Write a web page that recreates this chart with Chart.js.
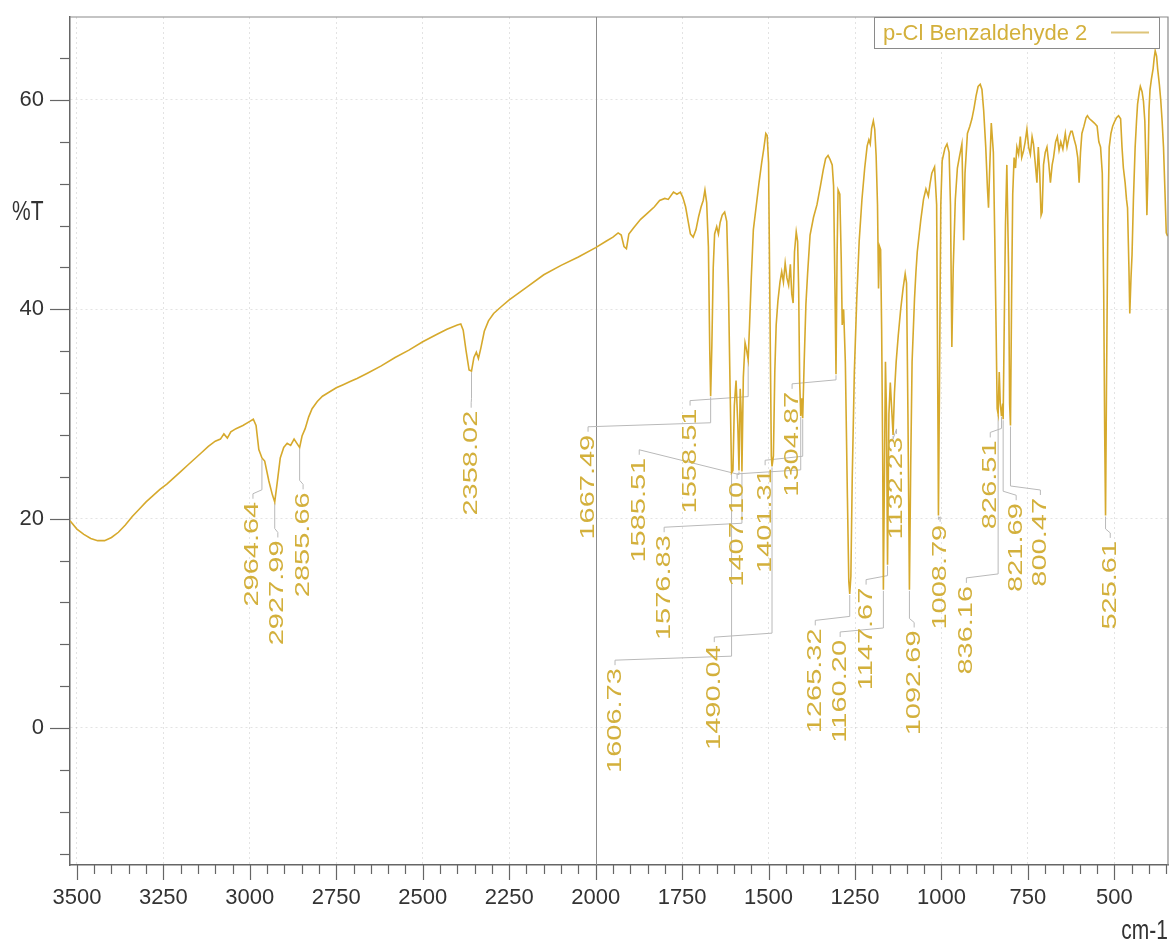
<!DOCTYPE html>
<html>
<head>
<meta charset="utf-8">
<title>p-Cl Benzaldehyde 2</title>
<script src="https://cdn.jsdelivr.net/npm/chart.js@4.4.1/dist/chart.umd.min.js"></script>
<style>
  html, body { margin: 0; padding: 0; background: #fff; }
</style>
</head>
<body>
<canvas id="spectrum" width="1172" height="943"></canvas>
<script>
// IR spectrum (wavenumber in cm-1, %T)
const wavenumbers = [
  3520, 3500, 3480, 3460, 3440, 3420, 3400, 3380, 3360, 3340, 3320, 3300, 3280, 3260, 3240, 3220,
  3200, 3180, 3160, 3140, 3120, 3100, 3085, 3075, 3065, 3055, 3040, 3020, 3000, 2990, 2982, 2974,
  2965, 2957, 2945, 2935, 2928, 2921, 2912, 2902, 2892, 2882, 2872, 2862, 2856, 2849, 2840, 2830,
  2820, 2805, 2790, 2770, 2750, 2730, 2710, 2690, 2660, 2620, 2580, 2540, 2500, 2460, 2430, 2400,
  2390, 2383, 2375, 2366, 2359, 2352, 2345, 2339, 2332, 2322, 2310, 2295, 2275, 2250, 2200, 2150,
  2100, 2050, 2000, 1970, 1950, 1935, 1926, 1918, 1911, 1904, 1890, 1870, 1850, 1830, 1815, 1800,
  1790, 1775, 1765, 1755, 1748, 1740, 1732, 1726, 1718, 1710, 1702, 1695, 1689, 1684, 1679, 1674,
  1670, 1667.5, 1664, 1660, 1656, 1650, 1645, 1640, 1634, 1627, 1621, 1616, 1611, 1607, 1603, 1599,
  1594, 1589, 1585.5, 1582, 1579, 1577, 1573, 1568, 1564, 1559, 1555, 1550, 1544, 1536, 1528, 1520,
  1514, 1508, 1504, 1500, 1496, 1492, 1490, 1486, 1482, 1478, 1473, 1467, 1462, 1457, 1452, 1447,
  1442, 1437, 1433, 1429, 1425, 1420, 1416, 1413, 1410, 1407, 1404, 1401.3, 1397, 1392, 1387, 1380,
  1370, 1360, 1350, 1342, 1335, 1328, 1322, 1316, 1312, 1308, 1305, 1302, 1299, 1294, 1290, 1287,
  1283, 1278, 1272, 1268, 1265.3, 1262, 1258, 1252, 1245, 1238, 1230, 1222, 1215, 1210, 1206, 1202,
  1197, 1193, 1189, 1185, 1182, 1179, 1176, 1173, 1170, 1168, 1165, 1162, 1159, 1156, 1152, 1148,
  1144, 1140, 1136, 1131, 1125, 1118, 1111, 1105, 1101, 1097, 1092.7, 1089, 1085, 1078, 1074, 1070,
  1060, 1052, 1045, 1038, 1033, 1028, 1020, 1014, 1010, 1008.8, 1006, 1002, 998, 990, 984, 978,
  974, 970, 966, 960, 954, 948, 941, 938, 936, 932, 925, 918, 912, 906, 900, 894,
  888, 883, 878, 872, 867, 864, 861, 856, 850, 846, 842, 839, 836.2, 833, 830, 826.5,
  823, 821.7, 818, 815, 811, 806, 803, 800.5, 797, 794, 790, 786, 782, 777, 772, 768,
  763, 758, 753, 748, 743, 738, 734, 729, 724, 720, 716, 712, 709, 705, 700, 695,
  690, 685, 680, 676, 670, 665, 660, 655, 649, 642, 637, 631, 626, 622, 616, 611,
  606, 602, 598, 594, 588, 582, 578, 572, 565, 558, 550, 545, 540, 535, 531, 528,
  525.6, 523, 519, 515, 510, 505, 500, 494, 488, 482, 478, 474, 469, 465, 462, 458,
  455.5, 452, 449, 445, 440, 436, 433, 428, 425, 420, 416, 412, 409, 406, 403, 400,
  397, 393, 388, 385, 382, 378, 375, 370, 366, 362, 358, 354, 350, 346
];
const transmittance = [
  19.8, 19.0, 18.5, 18.1, 17.9, 17.9, 18.2, 18.7, 19.4, 20.2, 20.9, 21.6, 22.2, 22.8, 23.3, 23.9,
  24.5, 25.1, 25.7, 26.3, 26.9, 27.4, 27.6, 28.1, 27.7, 28.3, 28.6, 28.9, 29.3, 29.5, 28.9, 26.6,
  25.8, 25.5, 23.6, 22.3, 21.6, 23.4, 25.8, 26.8, 27.2, 27.0, 27.6, 27.1, 26.8, 27.9, 28.6, 29.7,
  30.5, 31.2, 31.7, 32.1, 32.5, 32.8, 33.1, 33.4, 33.9, 34.6, 35.4, 36.1, 36.9, 37.6, 38.1, 38.5,
  38.6, 38.0, 36.1, 34.2, 34.1, 35.4, 35.9, 35.3, 36.3, 37.9, 38.9, 39.6, 40.2, 40.9, 42.1, 43.3,
  44.2, 45.0, 45.9, 46.5, 46.9, 47.3, 47.1, 46.0, 45.8, 47.2, 47.8, 48.6, 49.2, 49.8, 50.4, 50.6,
  50.5, 51.2, 51.0, 51.2, 50.7, 49.8, 48.3, 47.2, 46.9, 47.6, 48.9, 49.8, 50.4, 51.4, 50.2, 46.0,
  36.0, 31.7, 36.5, 44.0, 47.2, 47.9, 47.2, 48.3, 49.0, 49.3, 48.4, 42.0, 32.0, 24.4, 24.6, 30.8,
  33.2, 29.0, 24.6, 32.4, 30.0, 24.5, 33.5, 36.8, 36.2, 35.2, 38.5, 43.0, 47.6, 49.8, 52.0, 54.0,
  55.3, 56.8, 56.6, 54.0, 40.0, 26.0, 25.0, 26.0, 34.0, 38.5, 40.8, 42.6, 43.6, 42.6, 44.4, 43.0,
  42.3, 44.3, 41.5, 40.6, 45.5, 47.4, 46.5, 42.0, 33.0, 29.8, 31.5, 29.6, 35.0, 40.5, 43.5, 47.1,
  48.8, 50.0, 51.8, 53.3, 54.4, 54.7, 54.3, 53.8, 51.8, 42.0, 33.8, 45.0, 51.4, 51.0, 45.0, 38.5,
  40.0, 35.0, 22.0, 14.0, 12.8, 14.5, 24.0, 34.0, 41.0, 46.5, 50.5, 53.5, 55.6, 56.2, 55.8, 57.3,
  58.0, 57.2, 54.7, 50.0, 42.0, 46.0, 45.7, 38.0, 26.0, 13.2, 24.0, 35.0, 30.0, 15.6, 30.0, 33.0,
  30.5, 28.0, 32.0, 35.0, 37.5, 40.0, 42.0, 43.4, 42.5, 30.0, 13.2, 25.0, 35.0, 41.0, 43.5, 45.5,
  48.5, 50.5, 51.5, 50.8, 52.0, 53.0, 53.6, 50.0, 28.0, 20.3, 32.0, 50.0, 54.2, 55.4, 55.8, 55.0,
  50.0, 36.4, 44.0, 50.5, 53.5, 54.6, 55.8, 51.0, 46.6, 53.0, 56.8, 57.5, 58.2, 59.2, 60.4, 61.3,
  61.5, 61.0, 59.0, 55.5, 51.5, 49.7, 53.0, 57.8, 55.0, 47.0, 38.0, 30.5, 30.0, 34.0, 31.0, 29.8,
  31.0, 29.5, 40.0, 48.0, 53.8, 44.0, 31.0, 28.9, 42.0, 51.0, 54.5, 53.5, 55.5, 54.8, 56.5, 54.5,
  55.1, 56.0, 57.2, 55.5, 54.8, 56.5, 55.8, 54.0, 52.1, 55.5, 53.0, 49.0, 49.3, 53.8, 55.0, 55.5,
  54.0, 52.1, 53.8, 54.5, 56.0, 56.5, 55.2, 56.0, 55.3, 56.8, 55.5, 56.5, 57.0, 57.0, 56.2, 55.6,
  54.5, 52.1, 55.0, 56.8, 57.5, 58.3, 58.5, 58.2, 58.0, 57.8, 57.5, 56.0, 55.5, 53.0, 42.0, 28.0,
  20.3, 32.0, 48.0, 55.5, 56.8, 57.5, 57.9, 58.3, 58.5, 58.2, 55.5, 53.5, 52.1, 50.5, 49.7, 44.0,
  39.6, 43.0, 45.2, 50.5, 55.5, 58.0, 59.6, 60.8, 61.3, 60.8, 59.9, 58.0, 54.0, 49.0, 53.0, 59.0,
  61.0, 62.0, 63.0, 64.0, 64.7, 64.2, 63.0, 61.5, 60.0, 58.0, 55.5, 51.5, 47.3, 47.0
];

// picked peaks: printed value, band it points at (as drawn in the scan), label spot
const peakAt = [2964.64, 2927.99, 2855.66, 2358.02, 1667.49, 1606.73, 1585.51, 1576.83, 1558.51, 1490.04,
  1407.10, 1401.31, 1304.87, 1265.32, 1160.20, 1147.67, 1132.23, 1092.69, 1008.79, 836.16,
  826.51, 821.69, 800.47, 525.61];
const bandAt = [2965, 2928, 2856, 2359, 1667.5, 1607, 1585.5, 1577, 1559, 1490,
  1407, 1401.3, 1305, 1265.3, 1168, 1156, 1140, 1092.7, 1008.8, 836.2,
  826.5, 821.7, 800.5, 525.6];
const labelAtWn = [2991, 2919, 2846, 2360, 2022, 1944, 1874, 1802, 1727, 1657,
  1591, 1510, 1432, 1365, 1293, 1218, 1130, 1079, 1004, 928,
  859, 784, 714, 512];
const labelBottomT = [11.6, 7.9, 12.5, 20.3, 18.0, -4.3, 15.8, 8.4, 20.5, -2.1,
  13.5, 14.8, 22.1, -0.5, -1.4, 3.6, 18.0, -0.7, 9.4, 5.1,
  19.0, 13.0, 13.5, 9.4];

const yLabelled = [0, 20, 40, 60];
const seriesName = 'p-Cl Benzaldehyde 2';

const FONT = '"Liberation Sans", Arial, sans-serif';
const LINE_GOLD = '#d6a92c';
const TEXT_GOLD = '#d3b03c';

function valueAt(wn) {
  const i = wavenumbers.indexOf(wn);
  return i >= 0 ? transmittance[i] : 0;
}

// extra drawing: 2000 line, frame, tick marks, peak labels, legend, axis titles
const decor = {
  id: 'decor',
  beforeDatasetsDraw(chart) {
    const { ctx, chartArea: a, scales: { x, y } } = chart;
    ctx.save();
    ctx.lineWidth = 1;
    ctx.strokeStyle = '#8c8c8c';
    const x2000 = Math.round(x.getPixelForValue(2000)) + 0.5;
    ctx.beginPath(); ctx.moveTo(x2000, a.top); ctx.lineTo(x2000, a.bottom); ctx.stroke();

    // leader lines
    ctx.strokeStyle = '#b9b9b9';
    ctx.font = '20px ' + FONT;
    peakAt.forEach((p, i) => {
      const len = ctx.measureText(p.toFixed(2)).width * 1.45;
      const lx = x.getPixelForValue(labelAtWn[i]);
      const top = y.getPixelForValue(labelBottomT[i]) - len;
      const px = x.getPixelForValue(bandAt[i]);
      const py = y.getPixelForValue(valueAt(bandAt[i]));
      let elbow = top - 12;
      if (elbow < py + 4) elbow = py + 4;
      ctx.beginPath();
      ctx.moveTo(lx, top - 3);
      ctx.lineTo(lx, top - 8);
      ctx.lineTo(px, elbow);
      ctx.lineTo(px, py + 1);
      ctx.stroke();
    });
    ctx.restore();
  },
  afterDraw(chart) {
    const { ctx, chartArea: a, scales: { x, y } } = chart;
    ctx.save();

    // top and right frame
    ctx.strokeStyle = '#8a8a8a';
    ctx.lineWidth = 1.2;
    ctx.beginPath();
    ctx.moveTo(a.left, a.top); ctx.lineTo(a.right, a.top); ctx.lineTo(a.right, a.bottom);
    ctx.stroke();

    // tick marks
    ctx.strokeStyle = '#666';
    ctx.lineWidth = 1.2;
    x.ticks.forEach(t => {
      const px = Math.round(x.getPixelForValue(t.value)) + 0.5;
      const len = t.value % 250 === 0 ? 15 : 9;
      ctx.beginPath(); ctx.moveTo(px, a.bottom); ctx.lineTo(px, a.bottom + len); ctx.stroke();
    });
    y.ticks.forEach(t => {
      const py = Math.round(y.getPixelForValue(t.value)) + 0.5;
      const len = yLabelled.includes(t.value) ? 20 : 10;
      ctx.beginPath(); ctx.moveTo(a.left - len, py); ctx.lineTo(a.left, py); ctx.stroke();
    });

    // peak labels, rotated, stretched like the scan
    ctx.fillStyle = TEXT_GOLD;
    ctx.font = '20px ' + FONT;
    ctx.textAlign = 'left';
    ctx.textBaseline = 'middle';
    peakAt.forEach((p, i) => {
      ctx.save();
      ctx.translate(x.getPixelForValue(labelAtWn[i]), y.getPixelForValue(labelBottomT[i]));
      ctx.rotate(-Math.PI / 2);
      ctx.scale(1.45, 1);
      ctx.fillText(p.toFixed(2), 0, 0);
      ctx.restore();
    });

    // legend box
    const bx1 = a.right - 294, bx2 = a.right - 9, by1 = a.top, by2 = a.top + 31;
    ctx.fillStyle = '#fff';
    ctx.fillRect(bx1, by1, bx2 - bx1, by2 - by1);
    ctx.strokeStyle = '#8a8a8a';
    ctx.lineWidth = 1;
    ctx.strokeRect(bx1 + 0.5, by1 + 0.5, bx2 - bx1, by2 - by1);
    ctx.fillStyle = TEXT_GOLD;
    ctx.font = '22px ' + FONT;
    ctx.fillText(seriesName, bx1 + 9, (by1 + by2) / 2 + 1);
    ctx.strokeStyle = '#ddc479';
    ctx.lineWidth = 2;
    ctx.beginPath(); ctx.moveTo(bx2 - 48, (by1 + by2) / 2); ctx.lineTo(bx2 - 10, (by1 + by2) / 2); ctx.stroke();

    // axis titles
    ctx.fillStyle = '#333';
    ctx.font = '21px ' + FONT;
    ctx.save();
    ctx.translate(12, 212);
    ctx.scale(1, 1.3);
    ctx.fillText('%T', 0, 0);
    ctx.restore();
    ctx.save();
    ctx.textAlign = 'right';
    ctx.translate(a.right, 931);
    ctx.scale(1, 1.3);
    ctx.fillText('cm-1', 0, 0);
    ctx.restore();

    ctx.restore();
  }
};

// pin the plot box: fixed axis sizes and no extra label padding
function fixX(s) { s.height = 78; s.paddingLeft = 0; s.paddingRight = 0; }
function fixY(s) { s.width = 70; s.paddingTop = 0; s.paddingBottom = 0; }

const points = wavenumbers.map((w, i) => ({ x: w, y: transmittance[i] }));
const faint = 'rgba(0,0,0,0.11)';

new Chart(document.getElementById('spectrum'), {
  type: 'line',
  data: {
    datasets: [{
      label: seriesName,
      data: points,
      borderColor: LINE_GOLD,
      borderWidth: 1.6,
      pointRadius: 0,
      tension: 0,
      fill: false
    }]
  },
  options: {
    responsive: false,
    animation: false,
    layout: { padding: { left: 0, right: 4, top: 17, bottom: 0 } },
    plugins: { legend: { display: false }, tooltip: { enabled: false } },
    scales: {
      x: {
        type: 'linear',
        reverse: true,
        min: 345,
        max: 3520,
        afterFit: fixX,
        border: { color: '#666', width: 1.5, dash: [2, 3] },
        grid: {
          drawTicks: false,
          color: c => (c.tick && c.tick.value % 250 === 0 && c.tick.value !== 2000) ? faint : 'rgba(0,0,0,0)'
        },
        ticks: {
          stepSize: 50,
          includeBounds: false,
          autoSkip: false,
          maxRotation: 0,
          padding: 20,
          color: '#333',
          font: { family: FONT, size: 22 },
          callback: v => (v % 250 === 0 ? String(v) : '')
        }
      },
      y: {
        min: -13.09,
        max: 67.93,
        afterFit: fixY,
        border: { color: '#666', width: 1.5, dash: [2, 3] },
        grid: {
          drawTicks: false,
          color: c => (c.tick && yLabelled.includes(c.tick.value)) ? faint : 'rgba(0,0,0,0)'
        },
        ticks: {
          stepSize: 4,
          includeBounds: false,
          autoSkip: false,
          padding: 26,
          color: '#333',
          font: { family: FONT, size: 22 },
          callback: v => (yLabelled.includes(v) ? String(v) : '')
        }
      }
    }
  },
  plugins: [decor]
});
</script>
</body>
</html>
